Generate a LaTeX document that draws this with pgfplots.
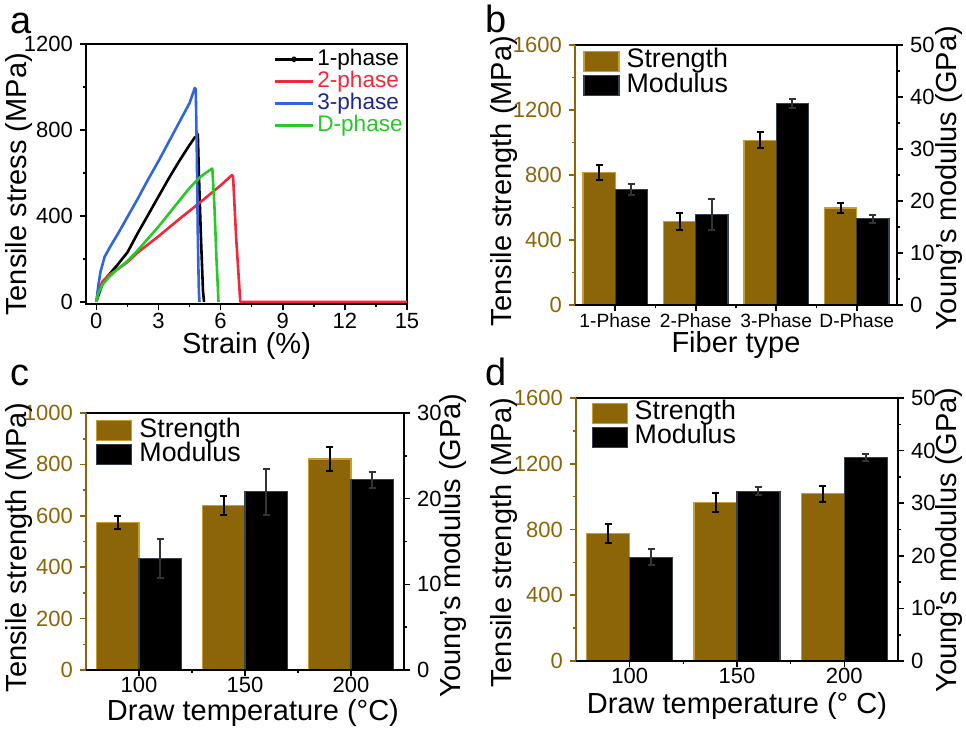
\documentclass[border=0pt]{standalone}
\usepackage{fontspec}
\setmainfont{Liberation Sans}
\usepackage{pgfplots}
\usepackage{pgfplotstable}
\pgfplotsset{compat=1.18}

\definecolor{brownbar}{RGB}{139,101,8}
\definecolor{brownedge}{RGB}{200,158,50}
\definecolor{brownaxis}{RGB}{139,101,8}
\definecolor{modedge}{RGB}{55,65,75}
\definecolor{cred}{RGB}{240,40,60}
\definecolor{cblue}{RGB}{50,100,220}
\definecolor{cblueT}{RGB}{30,40,140}
\definecolor{cgreen}{RGB}{40,200,40}

% bar centres sit 0.2 either side of each category (0,1,2,...)
% fiber type (b)
\pgfplotstableread{
x y e
-0.2 816 47
0.8 515 53
1.8 1013 49
2.8 597 33
}\strB
\pgfplotstableread{
x y e
0.2 22.2 1.0
1.2 17.4 3.0
2.2 38.7 0.9
3.2 16.6 0.75
}\modB
% draw temperature (c)
\pgfplotstableread{
x y e
-0.2 575 26
0.8 640 38
1.8 821 45
}\strC
\pgfplotstableread{
x y e
0.2 13.05 2.3
1.2 20.8 2.7
2.2 22.2 0.95
}\modC
% draw temperature (d)
\pgfplotstableread{
x y e
-0.2 774 59
0.8 964 57
1.8 1017 49
}\strD
\pgfplotstableread{
x y e
0.2 19.7 1.5
1.2 32.3 0.8
2.2 38.7 0.75
}\modD

\pgfplotsset{
  panel/.style={
    scale only axis, anchor=south west,
    axis line style={line width=1pt},
    every tick/.style={line width=0.8pt, black},
    major tick length=3pt, minor tick length=1.5pt,
    tick align=outside,
    tick label style={font=\fontsize{11}{11}\selectfont},
    xticklabel style={yshift=2pt},
    label style={font=\fontsize{14.5}{14.5}\selectfont},
    /pgf/number format/assume math mode=true,
    /pgf/number format/1000 sep={},
    enlargelimits=false,
  },
  barleg/.style={legend image code/.code={\draw[##1,/tikz/.cd] (0pt,-5pt) rectangle (17.5pt,5pt);}},
  strbar/.style={ybar, bar width=0.4, bar shift=0, fill=brownbar, draw=brownedge, line width=0.6pt, barleg,
    error bars/y dir=both, error bars/y explicit,
    error bars/error bar style={black, line width=1pt},
    error bars/error mark options={rotate=90, mark size=1.8pt, line width=1pt, black}},
  modbar/.style={ybar, bar width=0.4, bar shift=0, fill=black, draw=modedge, line width=0.6pt, barleg,
    error bars/y dir=both, error bars/y explicit,
    error bars/error bar style={black!80!white, line width=1pt},
    error bars/error mark options={rotate=90, mark size=1.8pt, line width=1pt, black!80!white}},
  leftax/.style={panel, separate axis lines, x axis line style={black}, y axis line style={brownaxis},
    tick pos=left, yticklabel style={text=brownaxis}, every y tick/.append style={brownaxis},
    axis on top, minor y tick num=1, minor x tick num=1, legend cell align=left,
    legend style={draw=none, fill=none, inner sep=0pt, font=\fontsize{13.4}{13.4}\selectfont, row sep=0pt, column sep=3.5pt,
      anchor=north west, nodes={inner sep=0pt, text height=9.3pt, text depth=2.8pt}}},
  rightax/.style={panel, axis x line*=bottom, axis y line*=right, xtick=\empty, axis on top, minor y tick num=1},
}

\begin{document}
\begin{tikzpicture}
\useasboundingbox (0pt,0pt) rectangle (483pt,-364.5pt);

% ---------- a ----------
\begin{axis}[panel, at={(43pt,-152pt)}, width=160.5pt, height=130pt,
  xmin=-0.5, xmax=15, ymin=-10, ymax=1200,
  xtick={0,3,...,15}, ytick={0,400,800,1200},
  minor x tick num=1, minor y tick num=1, tick pos=left,
  xlabel={Strain (\%)}, ylabel={Tensile stress (MPa)},
  xlabel style={at={(axis description cs:0.5,-0.163)}, anchor=center},
  ylabel style={at={(axis description cs:-0.209,0.46)}, anchor=center},
  legend cell align=left,
  legend style={draw=none, fill=none, inner sep=0pt, at={(axis description cs:0.988,0.985)}, anchor=north east,
    font=\fontsize{11.3}{11.3}\selectfont, row sep=0pt, column sep=1.5pt,
    nodes={inner sep=0pt, text height=8.4pt, text depth=2.6pt}},
  legend image code/.code={\draw[#1, mark repeat=2, mark phase=2] plot coordinates {(0pt,0pt) (9.5pt,0pt) (19pt,0pt)};},
]
\addplot[black, line width=1.3pt, line join=round, mark=*, mark size=0.9pt, mark phase=1000] coordinates {
(0,0) (0.1,30) (0.3,85) (0.6,125) (1,170) (1.5,230) (2,320) (2.5,405) (3,490) (3.5,575)
(4,655) (4.5,730) (4.75,765) (4.85,770) (4.9,780) (4.95,600) (5.05,300) (5.15,50) (5.2,0)};
\addplot[cred, line width=1.3pt, line join=round] coordinates {
(0,0) (0.1,50) (0.3,95) (0.6,125) (1,150) (1.5,185) (2,230) (3,305) (4,385) (5,462)
(6,542) (6.55,590) (6.6,585) (6.75,300) (6.95,0) (15,0)};
\addplot[cblue, line width=1.3pt, line join=round] coordinates {
(0,0) (0.1,80) (0.2,140) (0.4,210) (0.7,262) (1,310) (1.5,395) (2,480) (2.5,570) (3,655)
(3.5,745) (4,835) (4.5,925) (4.75,995) (4.8,990) (4.85,700) (4.9,300) (4.95,50) (4.98,0)};
\addplot[cgreen, line width=1.3pt, line join=round] coordinates {
(0,0) (0.1,40) (0.3,80) (0.6,115) (1,150) (1.5,190) (2,240) (2.5,295) (3,350) (3.5,410)
(4,470) (4.5,530) (5,580) (5.5,615) (5.6,620) (5.7,450) (5.8,200) (5.9,0)};
\legend{1-phase, \textcolor{cred}{2-phase}, \textcolor{cblueT}{3-phase}, \textcolor{cgreen}{D-phase}}
\end{axis}

% ---------- b ----------
\begin{axis}[leftax, at={(287.5pt,-152.5pt)}, width=161pt, height=130pt,
  xmin=-0.5, xmax=3.5, ymin=0, ymax=1600,
  xtick={0,1,2,3}, xticklabels={1-Phase,2-Phase,3-Phase,D-Phase},
  xticklabel style={font=\fontsize{9.6}{9.6}\selectfont},
  ytick={0,400,...,1600},
  xlabel={Fiber type}, ylabel={Tensile strength (MPa)},
  xlabel style={at={(axis description cs:0.5,-0.154)}, anchor=center},
  ylabel style={at={(axis description cs:-0.222,0.477)}, anchor=center},
  legend style={at={(axis description cs:0.025,0.985)}},
]
\addplot[strbar] table[x=x, y=y, y error=e] {\strB};
\addlegendimage{barleg, fill=black, draw=modedge, line width=0.6pt}
\legend{Strength, Modulus}
\end{axis}
\begin{axis}[rightax, at={(287.5pt,-152.5pt)}, width=161pt, height=130pt,
  xmin=-0.5, xmax=3.5, ymin=0, ymax=50, ytick={0,10,...,50},
  ylabel={Young's modulus (GPa)},
  ylabel style={at={(axis description cs:1.161,0.487)}, anchor=center},
]
\addplot[modbar] table[x=x, y=y, y error=e] {\modB};
\end{axis}

% ---------- c ----------
\begin{axis}[leftax, at={(43pt,-335pt)}, width=159pt, height=128.5pt,
  xmin=-0.5, xmax=2.5, ymin=0, ymax=1000,
  xtick={0,1,2}, xticklabels={100,150,200},
  xticklabel style={yshift=1pt},
  ytick={0,200,...,1000},
  xlabel={Draw temperature (°C)}, ylabel={Tensile strength (MPa)},
  xlabel style={at={(axis description cs:0.525,-0.167)}, anchor=center},
  ylabel style={at={(axis description cs:-0.211,0.477)}, anchor=center},
  legend style={at={(axis description cs:0.031,0.98)}},
]
\addplot[strbar] table[x=x, y=y, y error=e] {\strC};
\addlegendimage{barleg, fill=black, draw=modedge, line width=0.6pt}
\legend{Strength, Modulus}
\end{axis}
\begin{axis}[rightax, at={(43pt,-335pt)}, width=159pt, height=128.5pt,
  xmin=-0.5, xmax=2.5, ymin=0, ymax=30, ytick={0,10,20,30},
  ylabel={Young's modulus (GPa)},
  ylabel style={at={(axis description cs:1.153,0.484)}, anchor=center},
]
\addplot[modbar] table[x=x, y=y, y error=e] {\modC};
\end{axis}

% ---------- d ----------
\begin{axis}[leftax, at={(288pt,-330.5pt)}, width=161pt, height=131.5pt,
  xmin=-0.5, xmax=2.5, ymin=0, ymax=1600,
  xtick={0,1,2}, xticklabels={100,150,200},
  xticklabel style={yshift=1pt},
  ytick={0,400,...,1600},
  xlabel={Draw temperature (° C)}, ylabel={Tensile strength (MPa)},
  xlabel style={at={(axis description cs:0.5,-0.17)}, anchor=center},
  ylabel style={at={(axis description cs:-0.225,0.45)}, anchor=center},
  legend style={at={(axis description cs:0.047,0.99)}},
]
\addplot[strbar] table[x=x, y=y, y error=e] {\strD};
\addlegendimage{barleg, fill=black, draw=modedge, line width=0.6pt}
\legend{Strength, Modulus}
\end{axis}
\begin{axis}[rightax, at={(288pt,-330.5pt)}, width=161pt, height=131.5pt,
  xmin=-0.5, xmax=2.5, ymin=0, ymax=50, ytick={0,10,...,50},
  ylabel={Young's modulus (GPa)},
  ylabel style={at={(axis description cs:1.158,0.46)}, anchor=center},
]
\addplot[modbar] table[x=x, y=y, y error=e] {\modD};
\end{axis}

% panel letters
\node[anchor=base west, inner sep=0pt, font=\fontsize{19}{19}\selectfont] at (5pt,-16.5pt) {a};
\node[anchor=base west, inner sep=0pt, font=\fontsize{19}{19}\selectfont] at (242.5pt,-16pt) {b};
\node[anchor=base west, inner sep=0pt, font=\fontsize{19}{19}\selectfont] at (5pt,-192.5pt) {c};
\node[anchor=base west, inner sep=0pt, font=\fontsize{19}{19}\selectfont] at (242.5pt,-192.5pt) {d};
\end{tikzpicture}
\end{document}
